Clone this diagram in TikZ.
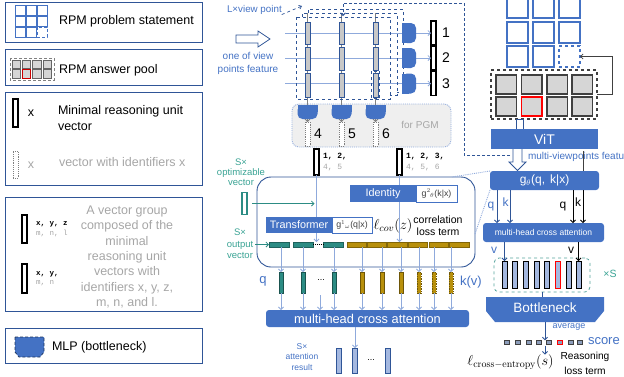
\documentclass[tikz,border=0pt]{standalone}
\usepackage[no-math]{fontspec}
\setmainfont{Liberation Sans}
\setmonofont{Liberation Mono}
\usetikzlibrary{arrows.meta,calc}
\definecolor{bblue}{HTML}{4472C4}
\definecolor{dblue}{HTML}{2F5597}
\definecolor{lblue}{HTML}{8FAADC}
\definecolor{tblue}{HTML}{4472C4}
\definecolor{tealc}{HTML}{2C8C84}
\definecolor{tealt}{HTML}{3AA394}
\definecolor{goldc}{HTML}{B8900C}
\definecolor{gtxt}{HTML}{A6A6A6}
\definecolor{lgray}{HTML}{D6D6D6}
\definecolor{barg}{HTML}{C8C8C8}
\definecolor{pgmf}{HTML}{EFEFEF}
\definecolor{attf}{HTML}{A4B8E0}
\definecolor{dgray}{HTML}{404040}
\definecolor{sqf}{HTML}{8C9DBB}
\newcommand{\fsz}[1]{\fontsize{#1}{#1}\selectfont}
\newcommand{\fsb}[2]{\fontsize{#1}{#2}\selectfont}
\newcommand{\mlpR}[2]{%
  \fill[bblue, rounded corners=5pt] (#1,#2-10) rectangle (#1+14,#2+10);
  \fill[bblue] (#1,#2-10) rectangle (#1+7,#2+10);}
\newcommand{\mlpD}[2]{%
  \fill[bblue, rounded corners=5pt] (#1,#2) rectangle (#1+20,#2+14);
  \fill[bblue] (#1,#2) rectangle (#1+20,#2+7);}
\begin{document}
\begin{tikzpicture}[x=1pt,y=-1pt,
  every node/.style={inner sep=0pt,outer sep=0pt},
  legbox/.style={draw=dblue,line width=1},
  mvec/.style={draw=black,line width=1.1,fill=white,minimum width=5},
  dvec/.style={draw=gray,densely dotted,line width=0.9,fill=white,minimum width=5},
  arr/.style={-{Straight Barb[length=2.5pt,width=5pt]},line width=0.8},
  bluebox/.style={fill=bblue,text=white},
  whbox/.style={draw=bblue,fill=white,line width=0.9,text=dgray},
  tbar/.style={fill=tealc,draw=tealc!70!black,line width=0.5,minimum height=5},
  gbar/.style={fill=goldc,draw=goldc!70!black,line width=0.5,minimum height=5},
  tsv/.style={fill=tealc,draw=tealc!60!black,line width=0.6,minimum width=4,minimum height=21},
  gsv/.style={fill=goldc,draw=goldc!60!black,line width=0.6,minimum width=4,minimum height=21},
]
\useasboundingbox (0,0) rectangle (624,376);

% ================= legend =================
\node[legbox,minimum width=197,minimum height=40,anchor=north west] (lg1) at (5,2) {};
\node[legbox,minimum width=197,minimum height=36,anchor=north west] (lg2) at (5,49) {};
\node[legbox,minimum width=197,minimum height=93,anchor=north west] (lg3) at (5,92) {};
\node[legbox,minimum width=197,minimum height=114,anchor=north west] (lg4) at (5,197) {};
\node[legbox,minimum width=197,minimum height=35,anchor=north west] (lg5) at (5,328) {};

\foreach \px/\py in {15/5,26/5,37/5,15/16,26/16,37/16,15/27,26/27}
  \draw[bblue,line width=0.8] (\px,\py) rectangle ++(10,10);
\draw[bblue,line width=0.8,densely dashed] (37,27) rectangle ++(10,10);
\node[anchor=west,font=\fsz{12.5}] (t1) at (59,21) {RPM problem statement};

\draw[gray,densely dashed,line width=0.7] (10,58) rectangle (54,80);
\foreach \px in {12,22.3,32.6,43}{\foreach \py in {60,69.5}{
  \draw[fill=lgray,draw=dgray!80,line width=0.7] (\px,\py) rectangle ++(8.5,8.5);}}
\draw[fill=lgray,draw=red!80!black,line width=0.7] (22.3,69.5) rectangle ++(8.5,8.5);
\node[anchor=west,font=\fsz{12.5}] (t2) at (59,70) {RPM answer pool};

\node[mvec,minimum height=28] (lv1) at (15.5,113) {};
\node[font=\fsz{12.5}] (lx1) at (31,113) {x};
\node[anchor=west,align=left,font=\fsb{12.5}{16}] (t3) at (58,118) {Minimal reasoning unit\\vector};
\node[dvec,minimum height=27] (lv2) at (15.5,164.5) {};
\node[font=\fsz{12.5},text=gtxt] (lx2) at (31,165) {x};
\node[anchor=west,font=\fsz{12.5},text=gtxt] (t4) at (59,162) {vector with identifiers x};

\node[mvec,minimum height=28] (lv3) at (24.5,229) {};
\node[anchor=west,font=\ttfamily\bfseries\fsz{7.5}] (lx3) at (36,224) {x,~y,~z};
\node[anchor=west,font=\ttfamily\fsz{7.5},text=gtxt] (lx4) at (36,233.5) {m,~n,~l};
\node[mvec,minimum height=29] (lv4) at (24.5,278.5) {};
\node[anchor=west,font=\ttfamily\bfseries\fsz{7.5}] (lx5) at (36,274) {x,~y,};
\node[anchor=west,font=\ttfamily\fsz{7.5},text=gtxt] (lx6) at (36,283.5) {m,~n};
\node[align=center,font=\fsb{12.5}{15.3},text=gtxt] (t5) at (127,257) {A vector group\\composed of the\\minimal\\reasoning unit\\vectors with\\identifiers x, y, z,\\m, n, and l.};

\draw[fill=bblue,draw=dblue!60!black,densely dashed,line width=0.7] (15,337) -- (44,337) -- (44,352) -- (40,357) -- (19,357) -- (15,352) -- cycle;
\node[anchor=west,font=\fsz{12.5}] (t6) at (52,347) {MLP (bottleneck)};

% ================= middle top =================
\node[anchor=west,font=\fsz{9.8},text=tblue] (lvp) at (227,10) {L×view point};
\coordinate (lvtip) at (302,6);
\draw[dblue,dashed,line width=0.7,-{Straight Barb[length=2.5pt,width=4pt]}] (lvp.south east) -- (lvtip);

\draw[dblue,fill=white,line width=0.8] (236,35) -- (258,35) -- (258,31) -- (270,39) -- (258,47) -- (258,43) -- (236,43) -- cycle;
\node[align=center,font=\fsb{10}{12.5},text=tblue] (t7) at (248,63.5) {one of view\\points feature};

% PGM box
\node[draw=lblue,densely dotted,fill=pgmf,rounded corners=7pt,line width=0.9,minimum width=159,minimum height=43,anchor=north west] (pgm) at (292,104) {};
\node[text=gtxt,font=\fsz{10}] (t8) at (420,125) {for PGM};

\node[dvec,minimum height=24] (v4) at (307.5,134) {};
\node[dvec,minimum height=24] (v5) at (341.5,134) {};
\node[dvec,minimum height=24] (v6) at (375.5,134) {};
\node[font=\fsz{14}] (n4) at (318,134) {4};
\node[font=\fsz{14}] (n5) at (352,134) {5};
\node[font=\fsz{14}] (n6) at (386,134) {6};

\foreach \n in {4,5,6}{
  \coordinate (ctop\n) at ($(v\n.north)+(0,-109)$);
  \draw[gray,line width=0.6,arr] (ctop\n) -- (v\n.north);}

\node[mvec,minimum height=24] (v1) at (433.5,33) {};
\node[mvec,minimum height=24] (v2) at (433.5,58) {};
\node[mvec,minimum height=24] (v3) at (433.5,83.5) {};
\node[font=\fsz{14}] (n1) at (446,33) {1};
\node[font=\fsz{14}] (n2) at (446,58) {2};
\node[font=\fsz{14}] (n3) at (446,83.5) {3};
\coordinate (h1) at (285,33);
\coordinate (h2) at (285,58);
\coordinate (h3) at (285,83.5);
\foreach \n in {1,2,3} \draw[lblue,arr] (h\n) -- (v\n.west);

% stacked dashed view-point boxes
\draw[dblue,dashed,line width=1] (296,17) rectangle (390,99);
\draw[dblue,dashed,line width=1] (302,17) -- (302,13) -- (397,13) -- (397,95) -- (390,95);
\draw[dblue,dashed,line width=1] (308,13) -- (308,9) -- (403,9) -- (403,92) -- (397,92);
\draw[dblue,dashed,line width=0.8] (371.5,71) rectangle (379.5,98.5);

\foreach \cx in {307.5,341.5,375.5}{
  \foreach \ya/\yb in {22/44,47/70,73/97}{
    \draw[fill=barg,draw=dblue,line width=0.9] (\cx-2.5,\ya) rectangle (\cx+2.5,\yb);}}

\mlpR{402}{33}
\mlpR{402}{58}
\mlpR{402}{83.5}
\mlpD{297.5}{105}
\mlpD{331.5}{105}
\mlpD{365.5}{105}

% dashed feedback from ViT features
\coordinate (vf) at (510,155);
\coordinate (vpin) at (343,16);
\draw[dblue,dash pattern=on 3pt off 2pt,line width=0.9,-{Straight Barb[length=2.5pt,width=5pt]}] (vf) -- (464,155) -- (464,3) -- (343,3) -- (vpin);

% vectors to the main block
\node[mvec,minimum height=26] (v12) at (316.5,162) {};
\node[anchor=west,font=\ttfamily\bfseries\fsz{8}] (l12a) at (323,157) {1,~2,};
\node[anchor=west,font=\ttfamily\fsz{8},text=gtxt] (l12b) at (323,168) {4,~5};
\node[mvec,minimum height=26] (v123) at (399.5,162) {};
\node[anchor=west,font=\ttfamily\bfseries\fsz{8}] (l123a) at (406,157) {1,~2,~3,};
\node[anchor=west,font=\ttfamily\fsz{8},text=gtxt] (l123b) at (406,168) {4,~5,~6};

% ================= main rounded block =================
\node[draw=dblue,line width=0.9,rounded corners=14pt,minimum width=218,minimum height=90,anchor=north west] (bigbox) at (257,177) {};

\node[tbar,minimum width=20] (tb1) at (279,244.5) {};
\node[tbar,minimum width=20] (tb2) at (303,244.5) {};
\node[tbar,minimum width=20] (tb3) at (333,244.5) {};
\node[gbar,minimum width=19] (gb1) at (356.5,244.5) {};
\node[gbar,minimum width=19] (gb2) at (376.5,244.5) {};
\node[gbar,minimum width=20] (gb3) at (397,244.5) {};
\node[gbar,minimum width=19] (gb4) at (417.5,244.5) {};
\node[gbar,minimum width=19] (gb5) at (438.5,244.5) {};
\node[gbar,minimum width=20] (gb6) at (459,244.5) {};
\draw[densely dotted,line width=0.9] (tb2.east) -- (tb3.west);

\draw[lblue,arr] (v12.south) -- (v12.south |- tb2.north);
\draw[lblue,arr] (v123.south) -- (v123.south |- gb3.north);

\node[draw=tealc,fill=white,line width=1.1,minimum width=5,minimum height=22] (ov) at (244.5,203.5) {};
\draw[tealc,arr] ($(ov.east)+(5,0)$) -- ($(v12.south |- ov.east)+(-2,0)$);
\node[align=center,text=tealt,font=\fsb{9.5}{10.2}] (t9) at (241,172) {S×\\optimizable\\vector};
\node[align=center,text=tealt,font=\fsb{9.5}{11.5}] (t10) at (240,244) {S×\\output\\vector};
\coordinate (ovs) at (255,244.5);
\draw[tealc,arr] (ovs) -- (tb1.west);

\node[bluebox,minimum width=66,minimum height=17,anchor=north west,font=\fsz{10.8}] (idn) at (350,185) {Identity};
\node[whbox,minimum width=41,minimum height=17,anchor=north west,font=\fsz{8.8}] (g2) at (416,185) {g$^2$\kern-0.5pt$_\theta$(k|x)};
\node[bluebox,minimum width=66,minimum height=16,anchor=north west,font=\fsz{10.8}] (trf) at (266,217) {Transformer};
\node[whbox,minimum width=40,minimum height=16,anchor=north west,font=\fsz{8.8}] (g1) at (332,217) {g$^1$\kern-0.5pt$_\omega$(q|x)};
\node[font=\fsz{14}] (lcov) at (393,226) {$\ell_{cov}(z)$};
\node[align=center,font=\fsb{10.5}{12.5}] (t11) at (438,225.5) {correlation\\loss term};

% small q / k(v) vectors
\node[tsv] (sv1) at (281,282.5) {};
\node[tsv] (sv2) at (303,282.5) {};
\node[tsv] (sv3) at (334,282.5) {};
\node[gsv] (sg1) at (362,282.5) {};
\node[gsv] (sg2) at (382,282.5) {};
\node[gsv] (sg3) at (401,282.5) {};
\node[gsv,dash pattern=on 1.5pt off 1pt] (sg4) at (419,282.5) {};
\node[gsv,dash pattern=on 1.5pt off 1pt] (sg5) at (434,282.5) {};
\node[gsv,dash pattern=on 1.5pt off 1pt] (sg6) at (451,282.5) {};
\foreach \n in {1,2,3} \draw[lblue,arr] (tb\n.south -| sv\n) -- (sv\n.north);
\foreach \n in {1,...,6} \draw[lblue,arr] (gb\n.south -| sg\n) -- (sg\n.north);

\node[text=tblue,font=\fsz{13}] (lq) at (263,281) {q};
\node[font=\fsz{9}] (dots1) at (321,280) {...};
\node[anchor=west,text=tblue,font=\fsz{13}] (lkv) at (460,282) {k(v)};

\node[bluebox,rounded corners=3pt,minimum width=203,minimum height=17,font=\fsz{12.8}] (mh) at (367.5,318.5) {multi-head cross attention};
\foreach \n in {1,2,3} \draw[lblue,arr] (sv\n.south) -- (sv\n.south |- mh.north);
\foreach \n in {1,...,6} \draw[lblue,arr] (sg\n.south) -- (sg\n.south |- mh.north);
\coordinate (ddot) at (320,295);
\draw[lblue,arr] (ddot) -- (ddot |- mh.north);

\node[draw=dblue,fill=attf,line width=0.9,minimum width=4.5,minimum height=25] (ar1) at (339,360.5) {};
\node[draw=dblue,fill=attf,line width=0.9,minimum width=4.5,minimum height=25] (ar2) at (355,360.5) {};
\node[draw=dblue,fill=attf,line width=0.9,minimum width=4.5,minimum height=25] (ar3) at (388,360.5) {};
\draw[lblue,arr] (mh.south -| ar2) -- (ar2.north);
\node[font=\fsz{9}] (dots2) at (371,360) {...};
\node[align=center,text=tblue,font=\fsb{8.5}{10.5}] (t12) at (302,357) {S×\\attention\\result};

% ================= right side =================
\foreach \px in {507,533}{\foreach \py in {-3,22,46}{
  \draw[bblue,line width=1.1] (\px,\py) rectangle ++(21,21);}}
\draw[bblue,line width=1.1] (559,-3) rectangle ++(21,21);
\draw[bblue,line width=1.1] (559,22) rectangle ++(21,21);
\node[draw=bblue,dashed,line width=1.1,minimum width=21,minimum height=21,anchor=north west] (miss) at (559,46) {};

\node[draw=dgray,dashed,line width=1.1,minimum width=106,minimum height=49,anchor=north west] (pool) at (491,70) {};
\foreach \px in {496,521.5,547,572}{\foreach \py in {75,97}{
  \draw[fill=lgray,draw=dgray,line width=1.1] (\px,\py) rectangle ++(20.5,19);}}
\draw[fill=lgray,draw=red,line width=1.1] (521.5,97) rectangle ++(20.5,19);
\draw[dgray,line width=0.8,arr] (pool.east) -- ++(15,0) |- (miss.east);

\draw[dblue,line width=0.8,fill=white] (516.5,119) rectangle (523,129);
\node[bluebox,minimum width=107,minimum height=20,font=\fsz{14},anchor=north west] (vit) at (491,129) {ViT};
\draw[dblue,fill=white,line width=0.8] (513,149) -- (513,162) -- (509,162) -- (517.5,170.5) -- (526,162) -- (522,162) -- (522,149);
\node[anchor=west,font=\fsz{10},text=tblue] (t13) at (528,157) {multi-viewpoints feature};
\draw[dgray,line width=0.8] (583,151) -- (583,171);

\coordinate (pj1) at (452,177);
\coordinate (pj2) at (475,234);
\node[bluebox,rounded corners=3pt,minimum width=109,minimum height=19,font=\fsz{12},anchor=north west] (gth) at (490,171) {g$_\theta$(q,\hspace{5pt}k|x)};
\draw[lblue,densely dotted,line width=0.9] (gth.north west) -- (pj1);
\draw[lblue,densely dotted,line width=0.9] (gth.south west) -- (pj2);

\node[bluebox,rounded corners=3pt,minimum width=121,minimum height=19,font=\fsz{8.5},anchor=north west] (mh2) at (483,223) {multi-head cross attention};
\draw[dblue,arr] ([xshift=-47.5]gth.south) -- ([xshift=-47.5]gth.south |- mh2.north);
\draw[dblue,arr] ([xshift=-34.5]gth.south) -- ([xshift=-34.5]gth.south |- mh2.north);
\draw[black,arr] ([xshift=28.5]gth.south) -- ([xshift=28.5]gth.south |- mh2.north);
\draw[black,arr] ([xshift=38.5]gth.south) -- ([xshift=38.5]gth.south |- mh2.north);
\node[text=tblue,font=\fsz{12}] (rq1) at (491,207) {q};
\node[text=tblue,font=\fsz{12}] (rk1) at (505.5,202) {k};
\node[font=\fsz{12}] (rq2) at (563,207) {q};
\node[font=\fsz{12}] (rk2) at (578,202) {k};

\node[draw=tealc!80,dashed,line width=0.8,rounded corners=5pt,minimum width=96,minimum height=34,anchor=north west] (tbx) at (494,258) {};
\foreach \n/\x in {1/504.5,2/515,3/525.5,4/536.5,5/547,7/568.5,8/578.5}
  \node[draw=black,fill=attf,line width=1,minimum width=5,minimum height=27] (bb\n) at (\x,274.5) {};
\node[draw=red,fill=attf,line width=1,minimum width=5,minimum height=27] (bb6) at (557.5,274.5) {};
\draw[dblue,arr] (mh2.south -| bb1) -- (bb1.north);
\draw[black,arr] (mh2.south -| bb8) -- (bb8.north);
\node[text=tblue,font=\fsz{12}] (rv1) at (494,250) {v};
\node[font=\fsz{12}] (rv2) at (571,250) {v};
\node[text=tealt,font=\fsz{10.5}] (xs) at (610,274) {×S};

\fill[bblue] (486,297) -- (604,297) -- (604,311) -- (595,322) -- (495,322) -- (486,311) -- cycle;
\node[text=white,font=\fsz{13.5}] (bn) at (545,308) {Bottleneck};
\draw[dblue,line width=0.8] (tbx.south) -- ++(0,5);

\foreach \n/\x in {1/507,2/518,3/529,4/539,5/549,7/571,8/580}
  \node[fill=sqf,draw=dgray,line width=1.1,minimum width=4.5,minimum height=4.5] (sc\n) at (\x,342.5) {};
\node[fill=sqf,draw=red,line width=1.1,minimum width=4.5,minimum height=4.5] (sc6) at (560,342.5) {};
\coordinate (bnb) at (545,322);
\draw[dblue,arr] (bnb) -- (bnb |- sc5.north);
\node[text=tblue,font=\fsz{9}] (avg) at (569,327) {average};
\node[anchor=west,text=tblue,font=\fsz{13}] (scr) at (588,341.5) {score};

\node[font=\fsz{14}] (lce) at (510.5,362) {$\ell_{\mathrm{cross{-}entropy}}\big(s\big)$};
\coordinate (scb) at (545,346);
\draw[dblue,arr] (scb) -- (scb |- lce.north);
\node[font=\fsz{10.2}] (t14) at (585,357) {Reasoning};
\node[font=\fsz{10.2}] (t15) at (585,370.5) {loss term};
\end{tikzpicture}
\end{document}
